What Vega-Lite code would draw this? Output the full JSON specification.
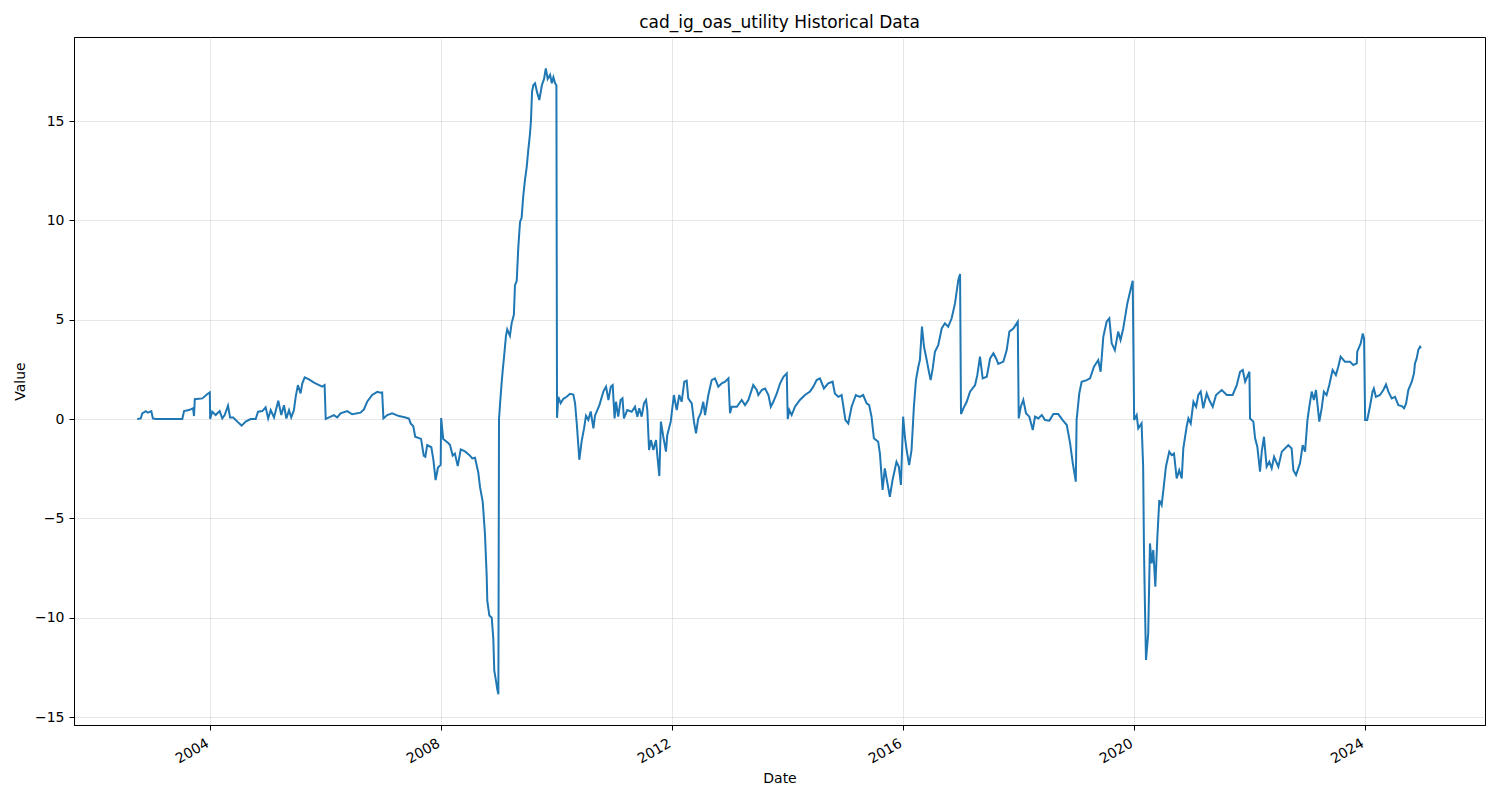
{
  "$schema": "https://vega.github.io/schema/vega-lite/v6.json",
  "width": 1411,
  "height": 688,
  "autosize": "none",
  "padding": {"left": 74, "top": 37, "right": 15, "bottom": 75},
  "title": {
    "text": "cad_ig_oas_utility Historical Data",
    "font": "DejaVu Sans",
    "fontSize": 17,
    "fontWeight": "normal",
    "color": "black",
    "offset": 5
  },
  "config": {
    "view": {"stroke": "black", "strokeWidth": 1},
    "axis": {
      "labelFont": "DejaVu Sans",
      "titleFont": "DejaVu Sans",
      "labelFontSize": 14,
      "titleFontSize": 14,
      "titleFontWeight": "normal",
      "labelColor": "black",
      "titleColor": "black",
      "domainColor": "black",
      "tickColor": "black",
      "tickSize": 5,
      "gridColor": "#b0b0b0",
      "gridOpacity": 0.3,
      "gridWidth": 1
    }
  },
  "data": {
    "values": [
      {"Date": "2002-09-28", "Value": 0},
      {"Date": "2002-10-20", "Value": 0.03},
      {"Date": "2002-10-30", "Value": 0.29},
      {"Date": "2002-11-21", "Value": 0.4},
      {"Date": "2002-12-05", "Value": 0.32},
      {"Date": "2002-12-26", "Value": 0.4},
      {"Date": "2003-01-05", "Value": 0.03},
      {"Date": "2003-01-22", "Value": 0},
      {"Date": "2003-07-10", "Value": 0},
      {"Date": "2003-07-21", "Value": 0.4},
      {"Date": "2003-08-21", "Value": 0.45},
      {"Date": "2003-09-16", "Value": 0.54},
      {"Date": "2003-09-22", "Value": 0.15},
      {"Date": "2003-09-27", "Value": 1.0},
      {"Date": "2003-11-14", "Value": 1.04},
      {"Date": "2003-12-16", "Value": 1.26},
      {"Date": "2003-12-31", "Value": 1.34},
      {"Date": "2004-01-02", "Value": 0},
      {"Date": "2004-01-15", "Value": 0.37},
      {"Date": "2004-02-06", "Value": 0.2},
      {"Date": "2004-03-02", "Value": 0.4},
      {"Date": "2004-03-19", "Value": 0.03},
      {"Date": "2004-04-03", "Value": 0.2},
      {"Date": "2004-04-24", "Value": 0.67},
      {"Date": "2004-05-07", "Value": 0.08},
      {"Date": "2004-05-27", "Value": 0.08},
      {"Date": "2004-06-22", "Value": -0.13},
      {"Date": "2004-07-19", "Value": -0.33},
      {"Date": "2004-08-14", "Value": -0.13},
      {"Date": "2004-09-14", "Value": 0},
      {"Date": "2004-10-16", "Value": 0},
      {"Date": "2004-10-31", "Value": 0.37},
      {"Date": "2004-11-27", "Value": 0.4},
      {"Date": "2004-12-18", "Value": 0.59},
      {"Date": "2005-01-03", "Value": 0.03},
      {"Date": "2005-01-19", "Value": 0.45},
      {"Date": "2005-02-09", "Value": 0.08},
      {"Date": "2005-03-08", "Value": 0.92},
      {"Date": "2005-03-27", "Value": 0.2},
      {"Date": "2005-04-13", "Value": 0.7},
      {"Date": "2005-04-28", "Value": 0.03},
      {"Date": "2005-05-15", "Value": 0.45},
      {"Date": "2005-05-29", "Value": 0.08},
      {"Date": "2005-06-15", "Value": 0.45},
      {"Date": "2005-06-26", "Value": 1.12},
      {"Date": "2005-07-10", "Value": 1.71},
      {"Date": "2005-07-27", "Value": 1.29},
      {"Date": "2005-08-07", "Value": 1.8},
      {"Date": "2005-08-22", "Value": 2.1},
      {"Date": "2005-09-18", "Value": 2.0},
      {"Date": "2005-10-20", "Value": 1.83},
      {"Date": "2005-11-21", "Value": 1.71},
      {"Date": "2005-12-11", "Value": 1.63},
      {"Date": "2005-12-26", "Value": 1.71},
      {"Date": "2006-01-02", "Value": 0},
      {"Date": "2006-01-23", "Value": 0.08},
      {"Date": "2006-02-23", "Value": 0.2},
      {"Date": "2006-03-16", "Value": 0.08},
      {"Date": "2006-04-06", "Value": 0.29},
      {"Date": "2006-05-18", "Value": 0.4},
      {"Date": "2006-06-18", "Value": 0.24},
      {"Date": "2006-08-10", "Value": 0.32},
      {"Date": "2006-09-01", "Value": 0.49},
      {"Date": "2006-09-21", "Value": 0.87},
      {"Date": "2006-10-23", "Value": 1.21},
      {"Date": "2006-11-24", "Value": 1.37},
      {"Date": "2006-12-15", "Value": 1.32},
      {"Date": "2006-12-25", "Value": 1.34},
      {"Date": "2007-01-02", "Value": 0.03},
      {"Date": "2007-01-26", "Value": 0.2},
      {"Date": "2007-02-26", "Value": 0.29},
      {"Date": "2007-04-10", "Value": 0.15},
      {"Date": "2007-05-22", "Value": 0.08},
      {"Date": "2007-06-12", "Value": 0.03},
      {"Date": "2007-06-23", "Value": -0.22},
      {"Date": "2007-07-10", "Value": -0.36},
      {"Date": "2007-07-22", "Value": -0.89},
      {"Date": "2007-08-28", "Value": -1.0},
      {"Date": "2007-09-14", "Value": -1.84},
      {"Date": "2007-09-24", "Value": -1.9},
      {"Date": "2007-10-06", "Value": -1.31},
      {"Date": "2007-11-01", "Value": -1.42},
      {"Date": "2007-11-14", "Value": -2.05},
      {"Date": "2007-11-28", "Value": -3.07},
      {"Date": "2007-12-13", "Value": -2.44},
      {"Date": "2007-12-30", "Value": -2.31},
      {"Date": "2008-01-02", "Value": 0.05},
      {"Date": "2008-01-15", "Value": -1.0},
      {"Date": "2008-02-16", "Value": -1.21},
      {"Date": "2008-02-27", "Value": -1.31},
      {"Date": "2008-03-15", "Value": -1.84},
      {"Date": "2008-03-29", "Value": -1.74},
      {"Date": "2008-04-16", "Value": -2.37},
      {"Date": "2008-05-05", "Value": -1.53},
      {"Date": "2008-06-01", "Value": -1.63},
      {"Date": "2008-07-02", "Value": -1.84},
      {"Date": "2008-07-17", "Value": -1.98},
      {"Date": "2008-08-03", "Value": -1.95},
      {"Date": "2008-08-24", "Value": -2.69},
      {"Date": "2008-09-04", "Value": -3.43},
      {"Date": "2008-09-21", "Value": -4.17},
      {"Date": "2008-10-05", "Value": -5.76},
      {"Date": "2008-10-16", "Value": -7.88},
      {"Date": "2008-10-20", "Value": -9.15},
      {"Date": "2008-11-02", "Value": -9.89},
      {"Date": "2008-11-17", "Value": -10.0},
      {"Date": "2008-11-27", "Value": -11.06},
      {"Date": "2008-12-03", "Value": -12.65},
      {"Date": "2008-12-14", "Value": -13.18},
      {"Date": "2008-12-22", "Value": -13.6},
      {"Date": "2008-12-29", "Value": -13.85},
      {"Date": "2009-01-02", "Value": 0},
      {"Date": "2009-01-09", "Value": 0.8},
      {"Date": "2009-01-19", "Value": 1.86},
      {"Date": "2009-01-26", "Value": 2.5},
      {"Date": "2009-02-03", "Value": 3.14},
      {"Date": "2009-02-15", "Value": 4.19},
      {"Date": "2009-02-23", "Value": 4.51},
      {"Date": "2009-03-12", "Value": 4.19},
      {"Date": "2009-03-23", "Value": 4.83},
      {"Date": "2009-04-06", "Value": 5.25},
      {"Date": "2009-04-13", "Value": 6.74},
      {"Date": "2009-04-24", "Value": 6.95},
      {"Date": "2009-05-04", "Value": 8.64},
      {"Date": "2009-05-15", "Value": 9.92},
      {"Date": "2009-05-25", "Value": 10.13},
      {"Date": "2009-06-04", "Value": 11.19},
      {"Date": "2009-06-15", "Value": 12.03},
      {"Date": "2009-06-26", "Value": 12.67},
      {"Date": "2009-07-06", "Value": 13.52},
      {"Date": "2009-07-17", "Value": 14.36},
      {"Date": "2009-07-23", "Value": 15.0},
      {"Date": "2009-07-30", "Value": 16.48},
      {"Date": "2009-08-07", "Value": 16.8},
      {"Date": "2009-08-18", "Value": 16.9},
      {"Date": "2009-09-02", "Value": 16.38},
      {"Date": "2009-09-14", "Value": 16.06},
      {"Date": "2009-09-30", "Value": 16.8},
      {"Date": "2009-10-14", "Value": 17.12},
      {"Date": "2009-10-25", "Value": 17.65},
      {"Date": "2009-11-06", "Value": 17.12},
      {"Date": "2009-11-21", "Value": 17.33},
      {"Date": "2009-12-02", "Value": 16.9},
      {"Date": "2009-12-12", "Value": 17.2},
      {"Date": "2009-12-23", "Value": 16.9},
      {"Date": "2009-12-31", "Value": 16.8},
      {"Date": "2010-01-04", "Value": 0.06},
      {"Date": "2010-01-12", "Value": 1.12},
      {"Date": "2010-01-27", "Value": 0.8},
      {"Date": "2010-02-13", "Value": 1.02},
      {"Date": "2010-03-06", "Value": 1.12},
      {"Date": "2010-03-27", "Value": 1.27},
      {"Date": "2010-04-17", "Value": 1.23},
      {"Date": "2010-04-28", "Value": 0.8},
      {"Date": "2010-05-09", "Value": -0.25},
      {"Date": "2010-05-25", "Value": -2.05},
      {"Date": "2010-06-09", "Value": -1.1},
      {"Date": "2010-06-24", "Value": -0.47},
      {"Date": "2010-07-06", "Value": 0.17},
      {"Date": "2010-07-21", "Value": -0.04},
      {"Date": "2010-08-05", "Value": 0.38},
      {"Date": "2010-08-22", "Value": -0.47},
      {"Date": "2010-09-01", "Value": 0.17},
      {"Date": "2010-09-29", "Value": 0.7},
      {"Date": "2010-10-24", "Value": 1.38},
      {"Date": "2010-11-10", "Value": 1.63},
      {"Date": "2010-11-25", "Value": 0.96},
      {"Date": "2010-12-10", "Value": 1.63},
      {"Date": "2010-12-22", "Value": 1.71},
      {"Date": "2011-01-03", "Value": 0.03},
      {"Date": "2011-01-12", "Value": 0.87},
      {"Date": "2011-01-26", "Value": 0.12},
      {"Date": "2011-02-10", "Value": 0.96},
      {"Date": "2011-02-22", "Value": 1.04},
      {"Date": "2011-03-03", "Value": 0.03},
      {"Date": "2011-03-24", "Value": 0.45},
      {"Date": "2011-04-21", "Value": 0.37},
      {"Date": "2011-05-12", "Value": 0.62},
      {"Date": "2011-05-27", "Value": 0.12},
      {"Date": "2011-06-08", "Value": 0.54},
      {"Date": "2011-06-23", "Value": 0.12},
      {"Date": "2011-07-08", "Value": 0.79},
      {"Date": "2011-07-21", "Value": 0.96},
      {"Date": "2011-07-29", "Value": 0.45},
      {"Date": "2011-08-09", "Value": -1.56},
      {"Date": "2011-08-21", "Value": -1.06},
      {"Date": "2011-09-05", "Value": -1.56},
      {"Date": "2011-09-22", "Value": -1.06},
      {"Date": "2011-09-30", "Value": -1.81},
      {"Date": "2011-10-13", "Value": -2.87},
      {"Date": "2011-10-23", "Value": -0.13},
      {"Date": "2011-11-07", "Value": -0.89},
      {"Date": "2011-11-24", "Value": -1.64},
      {"Date": "2011-12-02", "Value": -0.81},
      {"Date": "2011-12-24", "Value": -0.13},
      {"Date": "2012-01-13", "Value": 1.21},
      {"Date": "2012-01-31", "Value": 0.45},
      {"Date": "2012-02-16", "Value": 1.21},
      {"Date": "2012-03-02", "Value": 0.87},
      {"Date": "2012-03-19", "Value": 1.88},
      {"Date": "2012-04-03", "Value": 1.93},
      {"Date": "2012-04-13", "Value": 1.04},
      {"Date": "2012-05-05", "Value": 0.79},
      {"Date": "2012-05-19", "Value": -0.13},
      {"Date": "2012-06-01", "Value": -0.72},
      {"Date": "2012-06-15", "Value": 0.03},
      {"Date": "2012-07-01", "Value": 0.29},
      {"Date": "2012-07-17", "Value": 0.87},
      {"Date": "2012-07-28", "Value": 0.2},
      {"Date": "2012-08-18", "Value": 1.21},
      {"Date": "2012-09-08", "Value": 1.96},
      {"Date": "2012-09-29", "Value": 2.05},
      {"Date": "2012-10-20", "Value": 1.63},
      {"Date": "2012-11-11", "Value": 1.8},
      {"Date": "2012-12-02", "Value": 1.88},
      {"Date": "2012-12-23", "Value": 2.05},
      {"Date": "2013-01-02", "Value": 0.29},
      {"Date": "2013-01-13", "Value": 0.62},
      {"Date": "2013-02-14", "Value": 0.62},
      {"Date": "2013-03-17", "Value": 0.96},
      {"Date": "2013-04-07", "Value": 0.7},
      {"Date": "2013-04-28", "Value": 0.96},
      {"Date": "2013-05-29", "Value": 1.71},
      {"Date": "2013-06-20", "Value": 1.46},
      {"Date": "2013-06-30", "Value": 1.21},
      {"Date": "2013-07-22", "Value": 1.46},
      {"Date": "2013-08-12", "Value": 1.54},
      {"Date": "2013-09-02", "Value": 1.21},
      {"Date": "2013-09-17", "Value": 0.62},
      {"Date": "2013-10-03", "Value": 0.87},
      {"Date": "2013-10-25", "Value": 1.29},
      {"Date": "2013-11-15", "Value": 1.8},
      {"Date": "2013-12-06", "Value": 2.13},
      {"Date": "2013-12-27", "Value": 2.3},
      {"Date": "2014-01-02", "Value": 0},
      {"Date": "2014-01-12", "Value": 0.45},
      {"Date": "2014-01-27", "Value": 0.2},
      {"Date": "2014-02-17", "Value": 0.62},
      {"Date": "2014-03-20", "Value": 0.96},
      {"Date": "2014-04-21", "Value": 1.21},
      {"Date": "2014-05-23", "Value": 1.38},
      {"Date": "2014-06-13", "Value": 1.63},
      {"Date": "2014-07-04", "Value": 1.96},
      {"Date": "2014-07-25", "Value": 2.05},
      {"Date": "2014-08-19", "Value": 1.54},
      {"Date": "2014-09-15", "Value": 1.8},
      {"Date": "2014-10-13", "Value": 1.88},
      {"Date": "2014-10-27", "Value": 1.29},
      {"Date": "2014-11-18", "Value": 1.12},
      {"Date": "2014-12-09", "Value": 1.21},
      {"Date": "2015-01-02", "Value": -0.05},
      {"Date": "2015-01-20", "Value": -0.22},
      {"Date": "2015-02-10", "Value": 0.62},
      {"Date": "2015-03-09", "Value": 1.21},
      {"Date": "2015-04-03", "Value": 1.12},
      {"Date": "2015-04-24", "Value": 1.21},
      {"Date": "2015-05-16", "Value": 0.79},
      {"Date": "2015-06-01", "Value": 0.7},
      {"Date": "2015-06-16", "Value": 0.12},
      {"Date": "2015-07-01", "Value": -0.97},
      {"Date": "2015-07-28", "Value": -1.14},
      {"Date": "2015-08-08", "Value": -1.73},
      {"Date": "2015-08-25", "Value": -3.57},
      {"Date": "2015-09-08", "Value": -2.48},
      {"Date": "2015-09-19", "Value": -2.99},
      {"Date": "2015-10-10", "Value": -3.91},
      {"Date": "2015-10-27", "Value": -3.07},
      {"Date": "2015-11-21", "Value": -2.15},
      {"Date": "2015-12-06", "Value": -2.4},
      {"Date": "2015-12-19", "Value": -3.32},
      {"Date": "2016-01-02", "Value": 0.12},
      {"Date": "2016-01-13", "Value": -0.89},
      {"Date": "2016-01-24", "Value": -1.56},
      {"Date": "2016-02-09", "Value": -2.32},
      {"Date": "2016-02-24", "Value": -1.56},
      {"Date": "2016-03-10", "Value": 0.62},
      {"Date": "2016-03-23", "Value": 1.96},
      {"Date": "2016-04-07", "Value": 2.63},
      {"Date": "2016-04-17", "Value": 2.97},
      {"Date": "2016-04-30", "Value": 4.65},
      {"Date": "2016-05-13", "Value": 3.64},
      {"Date": "2016-05-30", "Value": 2.97},
      {"Date": "2016-06-15", "Value": 2.3},
      {"Date": "2016-06-24", "Value": 1.96},
      {"Date": "2016-07-07", "Value": 2.55},
      {"Date": "2016-07-21", "Value": 3.39},
      {"Date": "2016-08-11", "Value": 3.72},
      {"Date": "2016-09-02", "Value": 4.56},
      {"Date": "2016-09-22", "Value": 4.82},
      {"Date": "2016-10-13", "Value": 4.65},
      {"Date": "2016-11-04", "Value": 5.07},
      {"Date": "2016-11-25", "Value": 5.82},
      {"Date": "2016-12-16", "Value": 7.0},
      {"Date": "2016-12-27", "Value": 7.3},
      {"Date": "2017-01-02", "Value": 0.25},
      {"Date": "2017-01-17", "Value": 0.54},
      {"Date": "2017-02-07", "Value": 0.87},
      {"Date": "2017-02-28", "Value": 1.38},
      {"Date": "2017-04-01", "Value": 1.71},
      {"Date": "2017-04-15", "Value": 2.21},
      {"Date": "2017-05-02", "Value": 3.14},
      {"Date": "2017-05-19", "Value": 2.05},
      {"Date": "2017-06-14", "Value": 2.13},
      {"Date": "2017-07-05", "Value": 3.05},
      {"Date": "2017-07-26", "Value": 3.31},
      {"Date": "2017-08-12", "Value": 3.05},
      {"Date": "2017-08-26", "Value": 2.77},
      {"Date": "2017-09-27", "Value": 2.89},
      {"Date": "2017-10-18", "Value": 3.47},
      {"Date": "2017-11-04", "Value": 4.4},
      {"Date": "2017-11-29", "Value": 4.56},
      {"Date": "2017-12-27", "Value": 4.9},
      {"Date": "2018-01-02", "Value": 0.03},
      {"Date": "2018-01-15", "Value": 0.62},
      {"Date": "2018-01-31", "Value": 0.96},
      {"Date": "2018-02-17", "Value": 0.29},
      {"Date": "2018-03-10", "Value": 0.12},
      {"Date": "2018-04-01", "Value": -0.55},
      {"Date": "2018-04-15", "Value": 0.12},
      {"Date": "2018-05-06", "Value": 0.03},
      {"Date": "2018-05-28", "Value": 0.2},
      {"Date": "2018-06-17", "Value": -0.05},
      {"Date": "2018-07-15", "Value": -0.08},
      {"Date": "2018-08-09", "Value": 0.25},
      {"Date": "2018-09-09", "Value": 0.25},
      {"Date": "2018-10-07", "Value": -0.05},
      {"Date": "2018-11-02", "Value": -0.3},
      {"Date": "2018-11-23", "Value": -1.22},
      {"Date": "2018-12-10", "Value": -2.23},
      {"Date": "2018-12-29", "Value": -3.15},
      {"Date": "2019-01-03", "Value": -0.05},
      {"Date": "2019-01-20", "Value": 1.29},
      {"Date": "2019-02-04", "Value": 1.88},
      {"Date": "2019-03-08", "Value": 1.96},
      {"Date": "2019-03-29", "Value": 2.05},
      {"Date": "2019-04-23", "Value": 2.63},
      {"Date": "2019-05-20", "Value": 2.97},
      {"Date": "2019-06-04", "Value": 2.38},
      {"Date": "2019-06-21", "Value": 4.14},
      {"Date": "2019-07-12", "Value": 4.9},
      {"Date": "2019-07-29", "Value": 5.07},
      {"Date": "2019-08-13", "Value": 3.81},
      {"Date": "2019-09-02", "Value": 3.47},
      {"Date": "2019-09-23", "Value": 4.4},
      {"Date": "2019-10-08", "Value": 3.98},
      {"Date": "2019-10-25", "Value": 4.56},
      {"Date": "2019-11-20", "Value": 5.82},
      {"Date": "2019-12-07", "Value": 6.41},
      {"Date": "2019-12-24", "Value": 6.96},
      {"Date": "2020-01-02", "Value": -0.05},
      {"Date": "2020-01-18", "Value": 0.2},
      {"Date": "2020-01-28", "Value": -0.47},
      {"Date": "2020-02-18", "Value": -0.22},
      {"Date": "2020-02-28", "Value": -2.4},
      {"Date": "2020-03-04", "Value": -6.43},
      {"Date": "2020-03-10", "Value": -9.28},
      {"Date": "2020-03-17", "Value": -12.13},
      {"Date": "2020-03-31", "Value": -10.79},
      {"Date": "2020-04-11", "Value": -6.26},
      {"Date": "2020-04-22", "Value": -7.27},
      {"Date": "2020-05-02", "Value": -6.59},
      {"Date": "2020-05-15", "Value": -8.44},
      {"Date": "2020-05-27", "Value": -6.09},
      {"Date": "2020-06-09", "Value": -4.08},
      {"Date": "2020-06-24", "Value": -4.33},
      {"Date": "2020-07-05", "Value": -3.57},
      {"Date": "2020-07-21", "Value": -2.4},
      {"Date": "2020-08-11", "Value": -1.64},
      {"Date": "2020-08-26", "Value": -1.81},
      {"Date": "2020-09-10", "Value": -1.73},
      {"Date": "2020-09-27", "Value": -2.99},
      {"Date": "2020-10-13", "Value": -2.57},
      {"Date": "2020-10-29", "Value": -2.99},
      {"Date": "2020-11-08", "Value": -1.48},
      {"Date": "2020-11-29", "Value": -0.39},
      {"Date": "2020-12-10", "Value": 0.03},
      {"Date": "2020-12-25", "Value": -0.22},
      {"Date": "2021-01-11", "Value": 0.87},
      {"Date": "2021-01-28", "Value": 0.62},
      {"Date": "2021-02-11", "Value": 1.21},
      {"Date": "2021-02-26", "Value": 1.38},
      {"Date": "2021-03-14", "Value": 0.54},
      {"Date": "2021-04-05", "Value": 1.29},
      {"Date": "2021-04-21", "Value": 0.96},
      {"Date": "2021-05-13", "Value": 0.62},
      {"Date": "2021-06-03", "Value": 1.21},
      {"Date": "2021-07-09", "Value": 1.46},
      {"Date": "2021-08-10", "Value": 1.21},
      {"Date": "2021-09-16", "Value": 1.21},
      {"Date": "2021-10-12", "Value": 1.71},
      {"Date": "2021-11-02", "Value": 2.38},
      {"Date": "2021-11-19", "Value": 2.47},
      {"Date": "2021-12-04", "Value": 1.88},
      {"Date": "2021-12-31", "Value": 2.38},
      {"Date": "2022-01-04", "Value": 0.03},
      {"Date": "2022-01-25", "Value": -0.13},
      {"Date": "2022-02-05", "Value": -0.97},
      {"Date": "2022-02-19", "Value": -1.39},
      {"Date": "2022-03-08", "Value": -2.65},
      {"Date": "2022-03-19", "Value": -1.64},
      {"Date": "2022-04-02", "Value": -0.89},
      {"Date": "2022-04-19", "Value": -2.4},
      {"Date": "2022-05-06", "Value": -2.15},
      {"Date": "2022-05-21", "Value": -2.48},
      {"Date": "2022-06-05", "Value": -1.9},
      {"Date": "2022-07-02", "Value": -2.4},
      {"Date": "2022-07-24", "Value": -1.64},
      {"Date": "2022-08-13", "Value": -1.48},
      {"Date": "2022-09-03", "Value": -1.31},
      {"Date": "2022-09-24", "Value": -1.48},
      {"Date": "2022-10-05", "Value": -2.57},
      {"Date": "2022-10-22", "Value": -2.82},
      {"Date": "2022-11-16", "Value": -2.23},
      {"Date": "2022-12-03", "Value": -1.31},
      {"Date": "2022-12-18", "Value": -1.64},
      {"Date": "2023-01-02", "Value": -0.05},
      {"Date": "2023-01-14", "Value": 0.62},
      {"Date": "2023-01-29", "Value": 1.38},
      {"Date": "2023-02-12", "Value": 0.96},
      {"Date": "2023-02-25", "Value": 1.46},
      {"Date": "2023-03-18", "Value": -0.13},
      {"Date": "2023-04-02", "Value": 0.54},
      {"Date": "2023-04-16", "Value": 1.38},
      {"Date": "2023-05-03", "Value": 1.21},
      {"Date": "2023-05-20", "Value": 1.71},
      {"Date": "2023-06-10", "Value": 2.47},
      {"Date": "2023-07-01", "Value": 2.21},
      {"Date": "2023-07-16", "Value": 2.63},
      {"Date": "2023-07-31", "Value": 3.14},
      {"Date": "2023-08-27", "Value": 2.89},
      {"Date": "2023-09-28", "Value": 2.89},
      {"Date": "2023-10-19", "Value": 2.72},
      {"Date": "2023-11-10", "Value": 2.8},
      {"Date": "2023-11-13", "Value": 3.39},
      {"Date": "2023-12-05", "Value": 3.81},
      {"Date": "2023-12-18", "Value": 4.31},
      {"Date": "2023-12-26", "Value": 4.06},
      {"Date": "2024-01-02", "Value": -0.05},
      {"Date": "2024-01-15", "Value": -0.05},
      {"Date": "2024-02-01", "Value": 0.62},
      {"Date": "2024-02-18", "Value": 1.38},
      {"Date": "2024-02-26", "Value": 1.54},
      {"Date": "2024-03-10", "Value": 1.12},
      {"Date": "2024-04-05", "Value": 1.21},
      {"Date": "2024-04-26", "Value": 1.46},
      {"Date": "2024-05-13", "Value": 1.74},
      {"Date": "2024-05-28", "Value": 1.38},
      {"Date": "2024-06-18", "Value": 1.04},
      {"Date": "2024-07-09", "Value": 1.12},
      {"Date": "2024-07-30", "Value": 0.7},
      {"Date": "2024-08-21", "Value": 0.65},
      {"Date": "2024-09-04", "Value": 0.54},
      {"Date": "2024-09-17", "Value": 0.79},
      {"Date": "2024-10-01", "Value": 1.46},
      {"Date": "2024-10-23", "Value": 1.88},
      {"Date": "2024-11-06", "Value": 2.3},
      {"Date": "2024-11-12", "Value": 2.8},
      {"Date": "2024-11-23", "Value": 3.05},
      {"Date": "2024-12-03", "Value": 3.47},
      {"Date": "2024-12-14", "Value": 3.64},
      {"Date": "2024-12-20", "Value": 3.56}
    ]
  },
  "mark": {"type": "line", "color": "#1f77b4", "strokeWidth": 2, "clip": true},
  "encoding": {
    "x": {
      "field": "Date",
      "type": "temporal",
      "title": "Date",
      "scale": {"domain": ["2001-08-24", "2026-01-29"], "nice": false},
      "axis": {
        "format": "%Y",
        "tickCount": {"interval": "year", "step": 4},
        "labelAngle": -30,
        "labelAlign": "right",
        "labelBaseline": "top",
        "labelPadding": 6,
        "labelOffset": -6,
        "titlePadding": 6
      }
    },
    "y": {
      "field": "Value",
      "type": "quantitative",
      "title": "Value",
      "scale": {"domain": [-15.4, 19.23], "nice": false, "zero": false},
      "axis": {
        "values": [-15, -10, -5, 0, 5, 10, 15],
        "labelPadding": 5,
        "titlePadding": 7
      }
    }
  }
}
